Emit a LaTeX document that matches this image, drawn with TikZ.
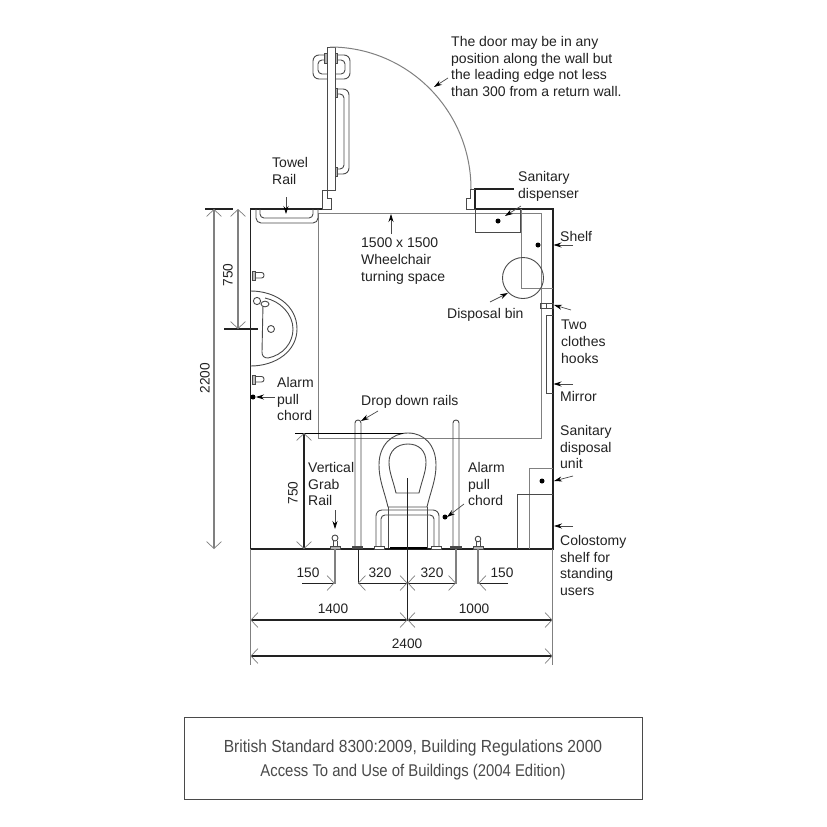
\documentclass[tikz,border=0pt]{standalone}
\usepackage{fontspec}
\setmainfont{Liberation Sans}
\newfontfamily\capfont[FakeStretch=0.89]{Liberation Sans}
\newfontfamily\capfontb[FakeStretch=0.875]{Liberation Sans}
\usetikzlibrary{arrows.meta,calc}
\definecolor{wallc}{HTML}{222222}
\definecolor{linec}{HTML}{4A4A4A}
\definecolor{greyc}{HTML}{808080}
\definecolor{textc}{HTML}{222222}
\tikzset{
  lab/.style={anchor=north west,inner sep=0pt,align=left,text=textc,font=\fontsize{14}{16.8}\selectfont},
  dimlab/.style={anchor=center,inner sep=0pt,text=textc,font=\fontsize{13.7}{14}\selectfont},
  wall/.style={draw=wallc,line width=1.8pt},
  thin line/.style={draw=linec,line width=0.9pt},
  grey line/.style={draw=greyc,line width=1pt},
  dimline/.style={draw=wallc,line width=1.3pt},
  ext/.style={draw=greyc,line width=1.2pt},
  dimarr/.style={{Straight Barb[length=7pt,width=15pt,line width=0.7pt,color=greyc]}-{Straight Barb[length=7pt,width=15pt,line width=0.7pt,color=greyc]}},
  dimend/.style={-{Straight Barb[length=7pt,width=15pt,line width=0.7pt,color=greyc]}},
  leaderline/.style={draw=linec,line width=0.7pt,-{Stealth[length=8pt,width=5pt,color=black]}},
  dot/.style={circle,fill=black,inner sep=0pt,minimum size=5pt},
}
\newcommand{\lbl}[4]{\node[lab] (#1) at (#2,{#3-5}) {#4};}
\newcommand{\leader}[3]{\coordinate (#1s) at (#2); \coordinate (#1e) at (#3); \draw[leaderline] (#1s) -- (#1e);}
\newcommand{\dimm}[5][dimarr]{\coordinate (#2a) at (#3); \coordinate (#2b) at (#4); \draw[dimline,#5,#1] (#2a) -- (#2b);}
\begin{document}
\begin{tikzpicture}[x=1pt,y=-1pt]
\useasboundingbox (0,0) rectangle (827,827);
\fill[white] (0,0) rectangle (827,827);
% turning space
\draw[grey line] (318,213) rectangle (541,438);
% walls
\draw[wall] (322,209) -- (250.5,209) -- (250.5,549) -- (553,549) -- (553,209) -- (475,209);
\draw[wall] (514,189) -- (475,189) -- (475,209);
\draw[thin line] (475,209) -- (475,232) -- (520,232) -- (520,209);
% door stubs
\draw[thin line] (322,190) -- (322,209) -- (331,209) -- (331,198) -- (327,198) -- (327,190) -- cycle;
\draw[thin line] (475,189) -- (470.5,189) -- (470.5,198) -- (466,198) -- (466,209) -- (475,209);
% door leaf and swing
\draw[thin line] (327,47) rectangle (335,190);
\draw[draw=greyc,line width=1pt] (330,47) arc[start angle=90,end angle=0,x radius=141,y radius=-142];
% door rails
\draw[thin line,rounded corners=6pt] (327,55) -- (313,55) -- (313,79) -- (327,79);
\draw[thin line,rounded corners=4pt] (327,60) -- (318,60) -- (318,74) -- (327,74);
\draw[thin line,rounded corners=6pt] (335,55) -- (350,55) -- (350,79) -- (335,79);
\draw[thin line,rounded corners=4pt] (335,60) -- (345,60) -- (345,74) -- (335,74);
\draw[thin line,fill=greyc!60] (324.5,53) rectangle (327,63);
\draw[thin line,fill=greyc!60] (335,53) rectangle (337.5,63);
\draw[thin line,rounded corners=6pt] (335,89) -- (349,89) -- (349,174) -- (335,174);
\draw[thin line,rounded corners=4pt] (335,94) -- (344,94) -- (344,169) -- (335,169);
\draw[thin line,fill=greyc!60] (335,88) rectangle (337.5,97);
\draw[thin line,fill=greyc!60] (335,167) rectangle (337.5,176);
% towel rail
\draw[thin line,rounded corners=5pt] (256,209) -- (256,223) -- (318,223) -- (318,209);
\draw[thin line,rounded corners=4pt] (260,209) -- (260,218) -- (313,218) -- (313,209);
% shelf, bin, hooks, mirror
\draw[grey line] (521,209) -- (521,288) -- (553,288);
\draw[thin line] (523,278) circle[radius=20.5];
\draw[thin line] (540,303) rectangle (553,308);
\draw[thin line] (546,303) -- (546,308);
\draw[thin line] (553,315) -- (546,315) -- (546,393) -- (553,393);
% disposal unit and colostomy shelf
\draw[grey line] (529,549) -- (529,468) -- (553,468);
\draw[thin line,line width=1pt] (517,549) -- (517,494) -- (553,494);
% basin
\draw[thin line] (250.5,291) .. controls (276,291) and (297,306) .. (297,329) .. controls (297,351) and (276,366) .. (250.5,366);
\draw[thin line] (263,304) -- (262,352) .. controls (262,356) and (264,358) .. (268,358) .. controls (283,355) and (293,343) .. (293,329) .. controls (293,314) and (280,301) .. (265,298);
\draw[thin line] (271,329) circle[radius=3.5];
\draw[thin line,fill=white] (257,301) circle[radius=3.6];
\draw[thin line,fill=white] (265,304) ellipse[x radius=4,y radius=2.8];
% taps
\draw[thin line,rounded corners=2.4pt,fill=white] (255,272.5) -- (264,272.5) -- (264,278) -- (255,278);
\draw[thin line,fill=greyc!50] (252,271) rectangle (255.5,280);
\draw[thin line,rounded corners=2.4pt,fill=white] (255,376.5) -- (264,376.5) -- (264,382) -- (255,382);
\draw[thin line,fill=greyc!50] (252,375) rectangle (255.5,384);
% alarm dot left
\node[dot] (alarmdotl) at (253,397) {};
% toilet
\draw[thin line] (388,507) .. controls (384,490) and (379,480) .. (379,465) .. controls (379,445) and (392,433) .. (408,433) .. controls (424,433) and (436,445) .. (436,465) .. controls (436,480) and (431,490) .. (427,507) -- cycle;
\draw[thin line] (396,493) .. controls (393,480) and (389,472) .. (389,462) .. controls (389,451) and (397,444) .. (408,444) .. controls (419,444) and (426,451) .. (426,462) .. controls (426,472) and (422,480) .. (419,493) -- cycle;
\draw[thin line,rounded corners=6pt] (376,547) -- (376,510) -- (439,510) -- (439,547);
\draw[thin line,rounded corners=4pt] (381,547) -- (381,515) -- (434,515) -- (434,547);
\draw[thin line] (388,507) -- (388,548);
\draw[thin line] (427,507) -- (427,548);
\draw[thin line,fill=white] (374,546.5) rectangle (384,549);
\draw[thin line,fill=white] (431,546.5) rectangle (441,549);
\draw[draw=black,line width=1.2pt] (390,548) -- (427,548);
% drop-down rails
\draw[thin line,rounded corners=2.9pt] (355,547) -- (355,420) -- (361,420) -- (361,547);
\draw[thin line,rounded corners=2.9pt] (453,547) -- (453,420) -- (459,420) -- (459,547);
\fill[linec] (352,546) rectangle (363,549);
\fill[linec] (450,546) rectangle (462,549);
% grab rail knobs
\draw[thin line,fill=white] (335,538) circle[radius=3];
\draw[thin line] (333,541) -- (333,546) (337,541) -- (337,546);
\draw[thin line,fill=greyc!60] (330,546) rectangle (340,549);
\draw[thin line,fill=white] (478,539) circle[radius=2.8];
\draw[thin line] (476,541) -- (476,546) (480,541) -- (480,546);
\draw[thin line,fill=greyc!60] (473,546) rectangle (483,549);
% dots
\node[dot] (dotdisp) at (498,221) {};
\node[dot] (dotshelf) at (538,245) {};
\node[dot] (dotunit) at (542,481) {};
\node[dot] (dotalarm) at (445,517) {};
% extension lines
\draw[ext] (250.5,549) -- (250.5,665);
\draw[ext] (552.5,549) -- (552.5,665);
\draw[ext] (335,549) -- (335,584);
\draw[dimline,line width=1pt] (358,549) -- (358,584);
\draw[ext] (456,549) -- (456,584);
\draw[ext] (478,549) -- (478,584);
\draw[dimline] (407.5,478) -- (407.5,621);
\draw[dimline,line width=1.7pt] (205,209) -- (233,209);
\draw[dimline,line width=1.7pt] (224,329) -- (258,329);
\draw[draw=black,line width=0.9pt] (295,433) -- (403,433);
% dimensions
\dimm{d22}{214,209}{214,549}{ext,line width=1.4pt}
\dimm{d75a}{238,209}{238,329}{ext,line width=1.1pt}
\dimm{d75b}{304,433}{304,549}{line width=1.4pt}
\dimm[dimend]{d15a}{302,583}{334.5,583}{line width=0.9pt}
\dimm{d32a}{358,583}{407.5,583}{line width=0.9pt}
\dimm{d32b}{407.5,583}{456,583}{line width=0.9pt}
\dimm[dimend]{d15b}{508,583}{478.5,583}{line width=0.9pt}
\dimm{d14}{250.5,620}{407.5,620}{line width=1.6pt}
\dimm{d10}{407.5,620}{552.5,620}{line width=1.6pt}
\dimm{d24}{250.5,656}{552.5,656}{line width=1.6pt}
% leaders
\leader{ldoor}{448,78}{434,87}
\leader{ltowel}{286,197}{286,214}
\leader{lturn}{391,234}{391,214}
\leader{ldisp}{521,206}{505,216}
\leader{lshelf}{573,245}{553.5,245}
\leader{lbin}{490,302}{508,293}
\leader{lhook}{571,310}{554,305}
\leader{lmirror}{573,384}{553.5,384}
\leader{lalarml}{275,397}{256,397}
\leader{ldrop}{378,411}{361,421}
\leader{lgrab}{335,510}{335,529}
\leader{lalarmr}{464,504}{447,517}
\leader{lunit}{573,476}{554,481}
\leader{lcol}{573,526}{554,526}
% labels
\lbl{tdoor}{451}{41}{The door may be in any\\position along the wall but\\the leading edge not less\\than 300 from a return wall.}
\lbl{ttowel}{272}{162}{Towel\\Rail}
\lbl{tturn}{361}{243}{1500 x 1500\\Wheelchair\\turning space}
\lbl{tdisp}{518}{176}{Sanitary\\dispenser}
\lbl{tshelf}{560}{236}{Shelf}
\lbl{tbin}{447}{313}{Disposal bin}
\lbl{thook}{561}{325}{Two\\clothes\\hooks}
\lbl{tmirror}{560}{396}{Mirror}
\lbl{talarml}{277}{382}{Alarm\\pull\\chord}
\lbl{tdrop}{361}{400}{Drop down rails}
\lbl{tunit}{560}{430}{Sanitary\\disposal\\unit}
\lbl{tgrab}{308}{467}{Vertical\\Grab\\Rail}
\lbl{talarmr}{468}{467}{Alarm\\pull\\chord}
\lbl{tcol}{560}{540}{Colostomy\\shelf for\\standing\\users}
\node[dimlab,rotate=90] (n750a) at (228,275) {750};
\node[dimlab,rotate=90] (n2200) at (205,378) {2200};
\node[dimlab,rotate=90] (n750b) at (293,493) {750};
\node[dimlab] (n150a) at (308,573) {150};
\node[dimlab] (n320a) at (380,573) {320};
\node[dimlab] (n320b) at (432,573) {320};
\node[dimlab] (n150b) at (502,573) {150};
\node[dimlab] (n1400) at (333,609) {1400};
\node[dimlab] (n1000) at (474,609) {1000};
\node[dimlab] (n2400) at (407,644) {2400};
% caption
\draw[draw=linec,line width=0.8pt] (184.5,717) rectangle (642,799);
\node[anchor=center,inner sep=0pt,text=linec,font=\capfont\fontsize{17.5}{25}\selectfont] (captiona) at (413,747.5) {British Standard 8300:2009, Building Regulations 2000};
\node[anchor=center,inner sep=0pt,text=linec,font=\capfontb\fontsize{17}{25}\selectfont] (captionb) at (413,772.5) {Access To and Use of Buildings (2004 Edition)};
\end{tikzpicture}
\end{document}
